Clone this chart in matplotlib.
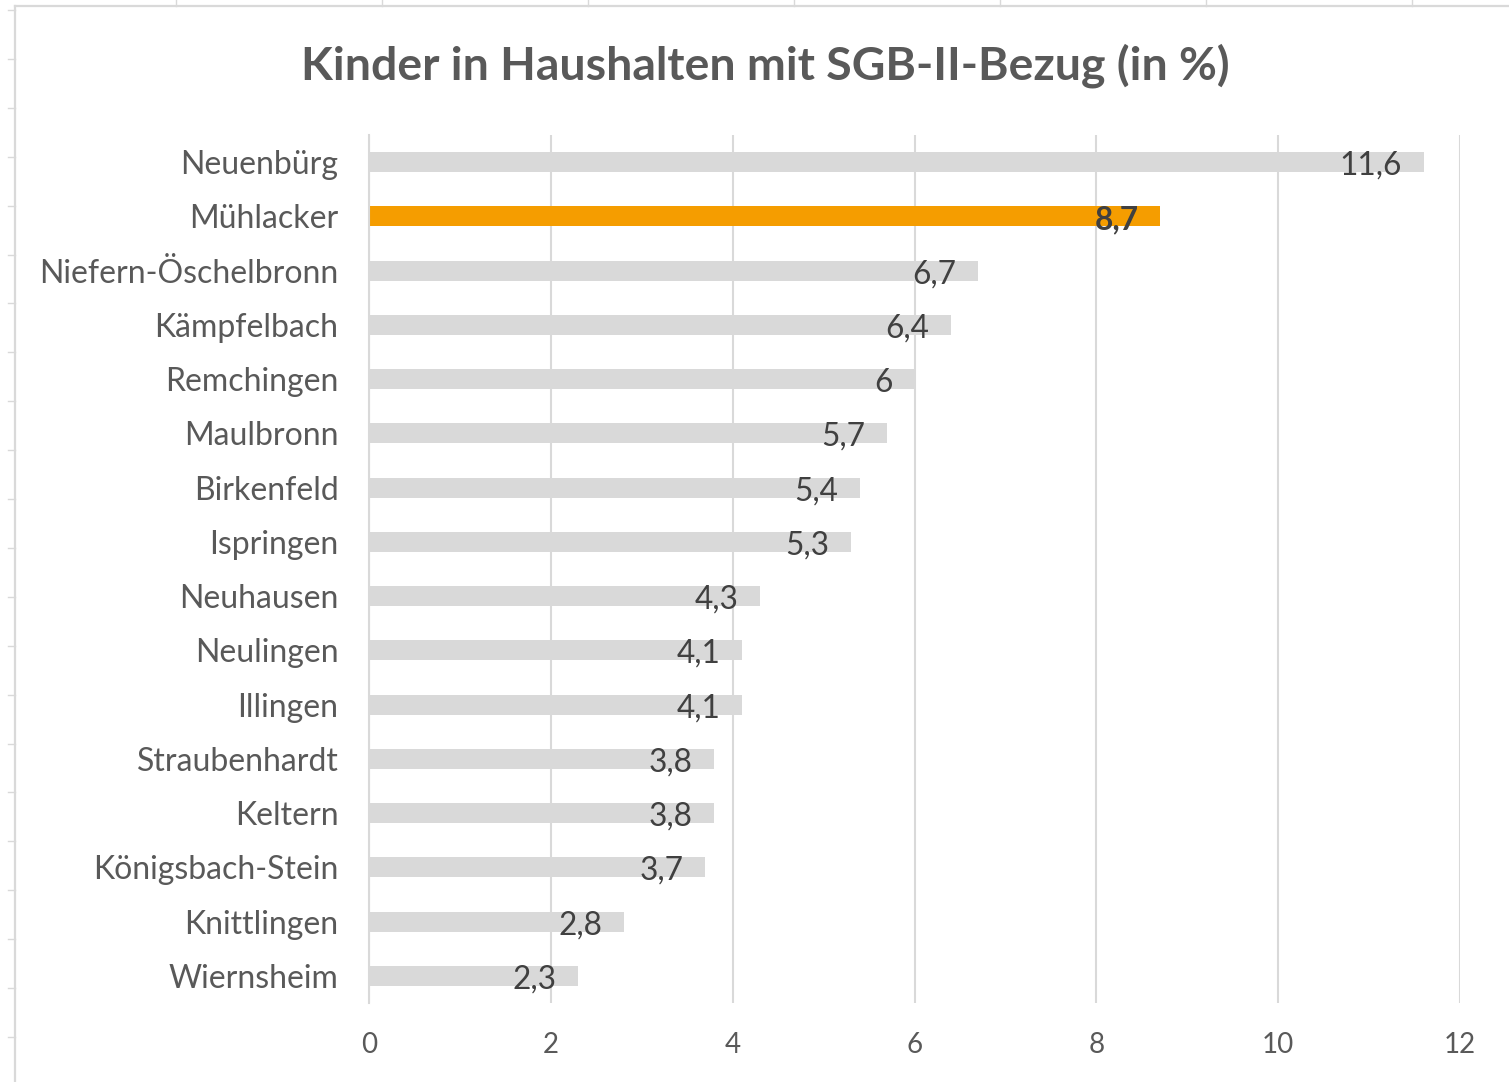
import matplotlib
matplotlib.use("Agg")
import matplotlib.pyplot as plt
from matplotlib.lines import Line2D

# data, top to bottom as in the chart
gemeinden = ["Neuenbürg", "Mühlacker", "Niefern-Öschelbronn", "Kämpfelbach",
             "Remchingen", "Maulbronn", "Birkenfeld", "Ispringen", "Neuhausen",
             "Neulingen", "Illingen", "Straubenhardt", "Keltern",
             "Königsbach-Stein", "Knittlingen", "Wiernsheim"]
anteil = [11.6, 8.7, 6.7, 6.4, 6.0, 5.7, 5.4, 5.3, 4.3, 4.1, 4.1, 3.8, 3.8,
          3.7, 2.8, 2.3]
hervorheben = "Mühlacker"
x_ticks = [0, 2, 4, 6, 8, 10, 12]

grau = "#D9D9D9"
orange = "#F59D00"
text_grau = "#595959"
wert_grau = "#404040"

plt.rcParams['font.family'] = ['Lato', 'DejaVu Sans']

W, H = 1509, 1082
fig = plt.figure(figsize=(W / 100, H / 100), dpi=100)
ax = fig.add_axes([369 / W, 1 - 1003 / H, (1460 - 369) / W, (1003 - 135) / H])

farben = [orange if g == hervorheben else grau for g in gemeinden]
pos = list(range(len(gemeinden)))
ax.barh(pos, anteil, height=0.37, color=farben, zorder=2)

for p, g, v in zip(pos, gemeinden, anteil):
    label = f"{v:g}".replace(".", ",")
    ax.annotate(label, (v, p), xytext=(-15.5, -2.5), textcoords="offset points",
                ha="right", va="center", fontsize=22.8, color=wert_grau,
                fontweight="bold" if g == hervorheben else "normal", zorder=3)

ax.set_xlim(0, 12)
ax.set_ylim(len(gemeinden) - 0.5, -0.5)
ax.set_xticks(x_ticks)
ax.set_xticklabels([str(t) for t in x_ticks])
ax.set_yticks(pos)
ax.set_yticklabels(gemeinden)
ax.tick_params(axis="x", length=0, pad=21, labelsize=20, labelcolor=text_grau)
ax.tick_params(axis="y", length=0, pad=22, labelsize=23, labelcolor=text_grau)
ax.grid(axis="x", color=grau, linewidth=1.5, zorder=0)
for s in ["top", "right", "bottom"]:
    ax.spines[s].set_visible(False)
ax.spines["left"].set_color(grau)
ax.spines["left"].set_linewidth(1.5)
ax.set_axisbelow(True)

fig.text(765 / W, 1 - 80 / H, "Kinder in Haushalten mit SGB-II-Bezug (in %)",
         ha="center", va="baseline", fontsize=33.4, fontweight="bold", color=text_grau)

# Rahmen des Diagrammbereichs und Zellraster am Rand (Excel-Screenshot)
def px_line(x0, y0, x1, y1, lw):
    fig.add_artist(Line2D([x0 / W, x1 / W], [1 - y0 / H, 1 - y1 / H],
                          transform=fig.transFigure, color=grau, linewidth=lw))

px_line(15, 6, 15, H, 1.6)
px_line(15, 6, W, 6, 1.6)
for k in range(23):
    y = 10 + 48.9 * k
    px_line(8, y, 15, y, 1.0)
for k in range(7):
    x = 176 + 206 * k
    px_line(x, 0, x, 6, 1.0)

fig.savefig("out.png", dpi=100, facecolor="white")
